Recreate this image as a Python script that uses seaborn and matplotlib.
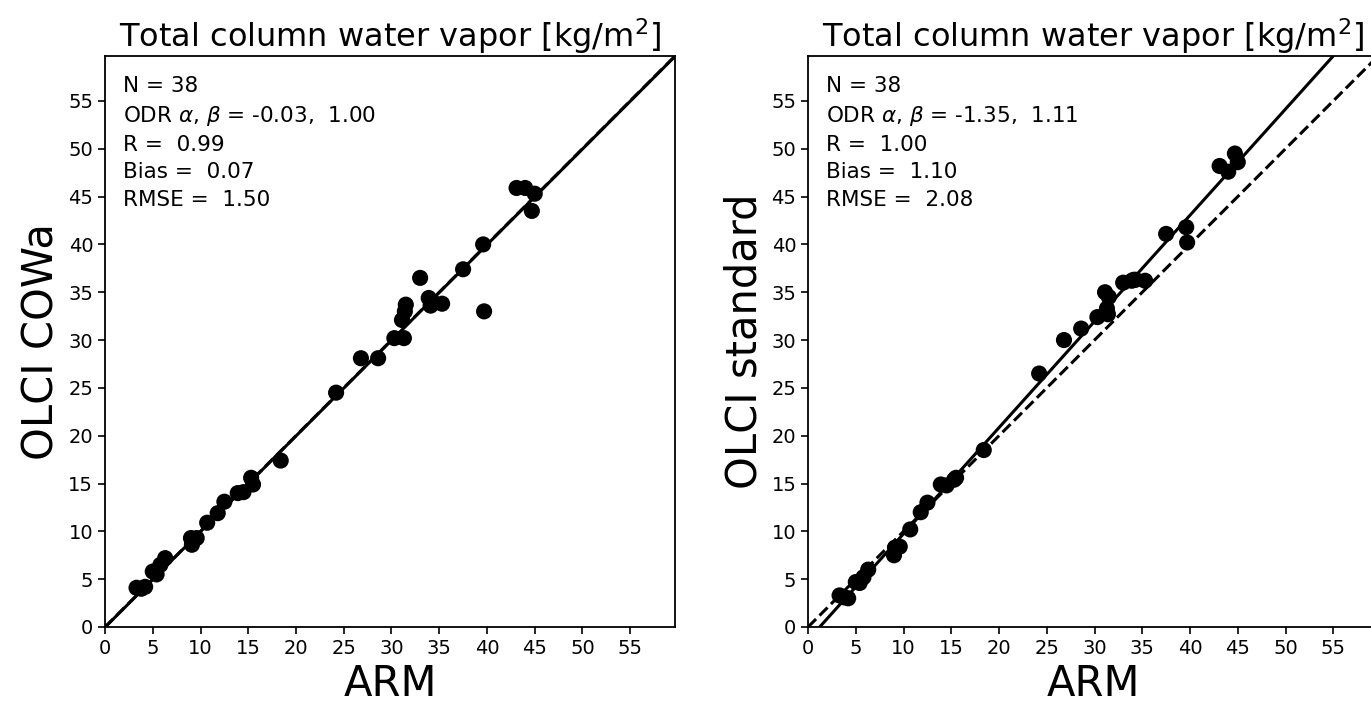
import numpy as np
import pandas as pd
import matplotlib
matplotlib.use('Agg')
import matplotlib.pyplot as plt
import seaborn as sns

# ARM reference values and the two OLCI retrievals (kg/m2)
arm = [3.3, 3.8, 4.2, 5.0, 5.4, 5.8, 6.3, 9.0, 9.1, 9.6, 10.7, 11.8, 12.5, 13.9,
       14.5, 15.3, 15.5, 18.4, 24.2, 26.8, 28.6, 30.3, 31.1, 31.3, 31.4, 31.5,
       33.0, 33.9, 34.1, 35.3, 37.5, 39.6, 39.7, 43.1, 44.0, 44.7, 45.0, 34.3]
cowa = [4.1, 4.0, 4.2, 5.8, 5.5, 6.5, 7.2, 9.3, 8.6, 9.3, 10.9, 11.9, 13.1, 14.0,
        14.1, 15.6, 14.9, 17.4, 24.5, 28.1, 28.1, 30.2, 32.1, 30.2, 33.0, 33.7,
        36.5, 34.4, 33.6, 33.8, 37.4, 40.0, 33.0, 45.9, 45.9, 43.5, 45.3, 34.0]
standard = [3.3, 3.1, 3.0, 4.7, 4.6, 5.2, 6.0, 7.5, 8.3, 8.4, 10.2, 12.0, 13.0, 14.9,
            14.8, 15.4, 15.6, 18.5, 26.5, 30.0, 31.2, 32.4, 35.0, 33.3, 32.7, 34.5,
            36.0, 36.2, 36.3, 36.2, 41.1, 41.8, 40.2, 48.2, 47.6, 49.5, 48.6, 36.3]

# fit statistics shown in the panels
stats_cowa = {'N': 38, 'a': -0.03, 'b': 1.00, 'R': 0.99, 'bias': 0.07, 'rmse': 1.50}
stats_std = {'N': 38, 'a': -1.35, 'b': 1.11, 'R': 1.00, 'bias': 1.10, 'rmse': 2.08}

df = pd.DataFrame({'ARM': arm, 'COWa': cowa, 'standard': standard})

sns.set_style('ticks')
plt.rcParams['font.family'] = ['DejaVu Sans']
plt.rcParams['mathtext.fontset'] = 'dejavusans'
for k in ['text.color', 'axes.labelcolor', 'xtick.color', 'ytick.color']:
    plt.rcParams[k] = 'black'

fig = plt.figure(figsize=(13.71, 7.06), dpi=100)
ax1 = fig.add_axes([0.0766, 0.1119, 0.4158, 0.8088])
ax2 = fig.add_axes([0.5894, 0.1119, 0.4158, 0.8088])

lim = 59.7
xx = np.array([0, lim])

for ax, col, st, ylab in [(ax1, 'COWa', stats_cowa, 'OLCI COWa'),
                          (ax2, 'standard', stats_std, 'OLCI standard')]:
    sns.scatterplot(data=df, x='ARM', y=col, ax=ax, color='black', s=135,
                    edgecolor='none', zorder=2)
    ax.plot(xx, st['a'] + st['b'] * xx, color='black', lw=2.2, zorder=3)
    ax.plot(xx, xx, color='black', lw=2.2, ls='--', zorder=3)
    ax.set_xlim(0, lim)
    ax.set_ylim(0, lim)
    ax.set_xticks(np.arange(0, 56, 5))
    ax.set_yticks(np.arange(0, 56, 5))
    ax.tick_params(labelsize=14, width=1.2, length=5, color='black')
    for sp in ax.spines.values():
        sp.set_linewidth(1.3)
        sp.set_color('black')
    ax.set_xlabel('ARM', fontsize=30)
    ax.set_ylabel(ylab, fontsize=30)
    ax.set_title('Total column water vapor [kg/m$^2$]', fontsize=23, pad=6)
    txt = ('N = %d\nODR $\\alpha$, $\\beta$ = %.2f,  %.2f\nR =  %.2f\n'
           'Bias =  %.2f\nRMSE =  %.2f' % (st['N'], st['a'], st['b'], st['R'],
                                           st['bias'], st['rmse']))
    ax.text(0.032, 0.965, txt, transform=ax.transAxes, fontsize=15.5,
            va='top', ha='left', linespacing=1.45)

fig.savefig('out.png', dpi=100)
